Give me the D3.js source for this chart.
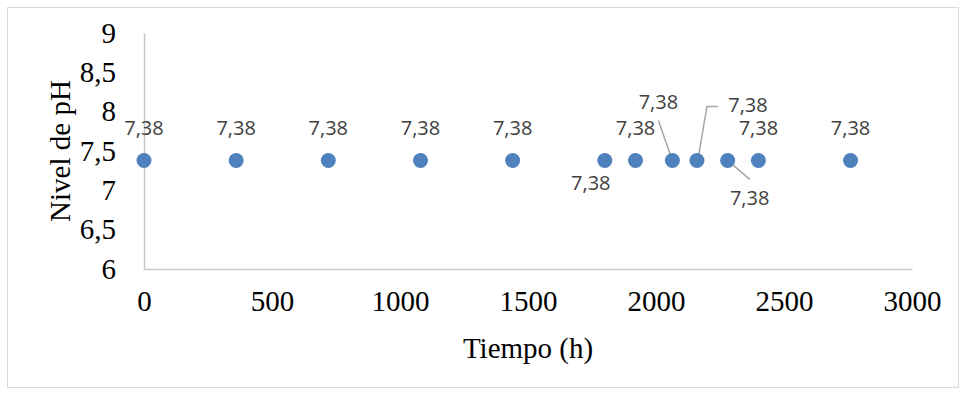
<!DOCTYPE html>
<html>
<head>
<meta charset="utf-8">
<script src="https://cdn.jsdelivr.net/npm/d3@7"></script>
<style>
  html, body { margin: 0; padding: 0; background: #ffffff; }
  svg { display: block; }
</style>
</head>
<body>
<svg id="chart" width="964" height="394"></svg>
<script>
// ---- Data ----
const times = [0, 360, 720, 1080, 1440, 1800, 1920, 2064, 2160, 2280, 2400, 2760];
const phValues = [7.38, 7.38, 7.38, 7.38, 7.38, 7.38, 7.38, 7.38, 7.38, 7.38, 7.38, 7.38];
const xTicks = [0, 500, 1000, 1500, 2000, 2500, 3000];
const yTicks = [6, 6.5, 7, 7.5, 8, 8.5, 9];
const xTitle = "Tiempo (h)";
const yTitle = "Nivel de pH";

// ---- Label layout (offsets from point, px) ----
const labelLayout = {
  5: { dx: -14, dy: 23 },
  7: { dx: -14, dy: -58, leader: [[-14, -40], [0, 0]] },
  8: { dx: 51, dy: -55, leader: [[21, -54], [10, -54], [1, -1]] },
  9: { dx: 22, dy: 38, leader: [[22, 19], [0, 0]] }
};

const svg = d3.select("#chart");
const loc = d3.formatLocale({ decimal: ",", thousands: "", grouping: [3], currency: ["", ""] });
const fmtTick = loc.format("~g");
const fmtLabel = loc.format(".2f");

// Outer border
svg.append("rect")
  .attr("x", 7.5).attr("y", 7.5)
  .attr("width", 951).attr("height", 380)
  .attr("fill", "#fff").attr("stroke", "#d9d9d9").attr("stroke-width", 1);

const x = d3.scaleLinear().domain([0, 3000]).range([144, 912]);
const y = d3.scaleLinear().domain([6, 9]).range([269, 33]);

const serif = "'Liberation Serif', 'Times New Roman', serif";
const sans = "'Open Sans', 'Noto Sans', Calibri, sans-serif";

// Axes
const xAxis = d3.axisBottom(x).tickValues(xTicks).tickFormat(fmtTick).tickSize(0).tickPadding(21);
const yAxis = d3.axisLeft(y).tickValues(yTicks).tickFormat(fmtTick).tickSize(0).tickPadding(28);

const gx = svg.append("g").attr("transform", `translate(0,${y(6)})`).call(xAxis);
const gy = svg.append("g").attr("transform", `translate(${x(0)},0)`).call(yAxis);

[gx, gy].forEach(g => {
  g.select(".domain").attr("stroke", "#c6c6c6").attr("stroke-width", 1.5);
  g.selectAll("text")
    .attr("font-family", serif)
    .attr("font-size", 29)
    .attr("fill", "#000");
});
gx.selectAll("text").attr("dy", "0.71em");

// Axis titles
svg.append("text")
  .attr("x", (x(0) + x(3000)) / 2).attr("y", 358)
  .attr("text-anchor", "middle")
  .attr("font-family", serif).attr("font-size", 29).attr("fill", "#000")
  .text(xTitle);

svg.append("text")
  .attr("transform", `translate(70,${(y(6) + y(9)) / 2}) rotate(-90)`)
  .attr("text-anchor", "middle")
  .attr("font-family", serif).attr("font-size", 29).attr("fill", "#000")
  .text(yTitle);

const pts = times.map((t, i) => ({ t, v: phValues[i], i }));

// Leader lines
pts.forEach(d => {
  const lay = labelLayout[d.i];
  if (lay && lay.leader) {
    const px = x(d.t), py = y(d.v);
    svg.append("path")
      .attr("d", d3.line()(lay.leader.map(p => [px + p[0], py + p[1]])))
      .attr("fill", "none")
      .attr("stroke", "#a6a6a6")
      .attr("stroke-width", 1.5);
  }
});

// Points
svg.append("g").selectAll("circle")
  .data(pts).join("circle")
  .attr("cx", d => x(d.t))
  .attr("cy", d => y(d.v))
  .attr("r", 7.5)
  .attr("fill", "#4f81bd");

// Data labels
svg.append("g").selectAll("text")
  .data(pts).join("text")
  .attr("x", d => x(d.t) + (labelLayout[d.i] ? labelLayout[d.i].dx : 0))
  .attr("y", d => y(d.v) + (labelLayout[d.i] ? labelLayout[d.i].dy : -32))
  .attr("dy", "0.35em")
  .attr("text-anchor", "middle")
  .attr("font-family", sans)
  .attr("font-size", 20)
  .attr("fill", "#404040")
  .text(d => fmtLabel(d.v));
</script>
</body>
</html>
